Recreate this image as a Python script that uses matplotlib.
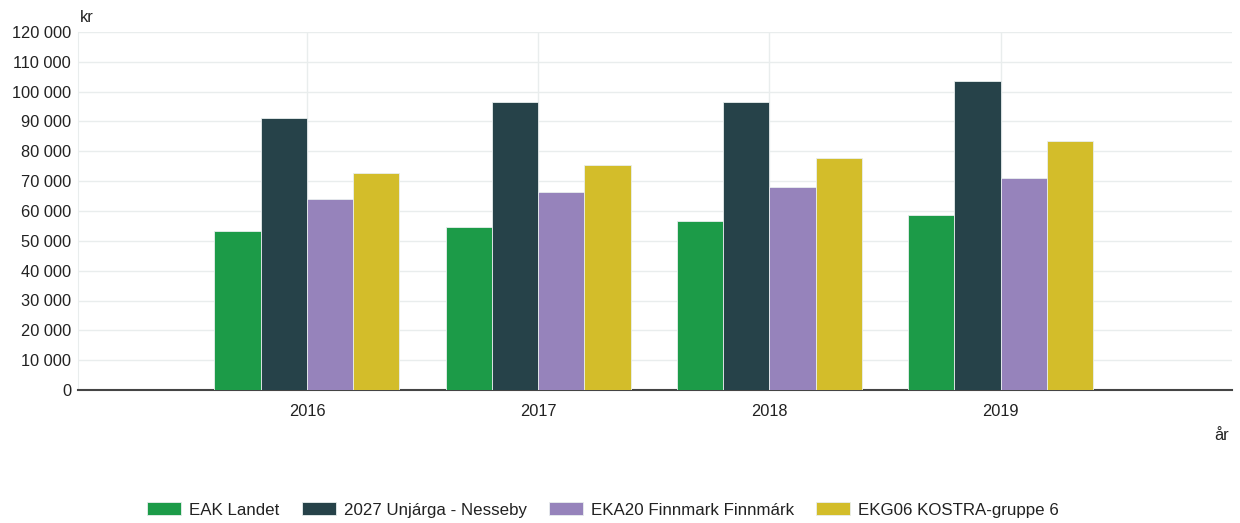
import matplotlib
matplotlib.use("Agg")
import matplotlib.pyplot as plt
from matplotlib.ticker import FuncFormatter, MultipleLocator
import numpy as np

plt.rcParams['font.family'] = ['Liberation Sans', 'DejaVu Sans']

years = ["2016", "2017", "2018", "2019"]
series_names = ["EAK Landet", "2027 Unjárga - Nesseby",
                "EKA20 Finnmark Finnmárk", "EKG06 KOSTRA-gruppe 6"]
eak_landet = [53300, 54600, 56700, 58600]
nesseby = [91200, 96500, 96600, 103500]
finnmark = [64000, 66400, 68100, 71000]
kostra6 = [72700, 75400, 77800, 83400]
colors = ["#1c9b48", "#264249", "#9683bb", "#d3bd2a"]

fig = plt.figure(figsize=(12.4, 5.23), dpi=100)
ax = fig.add_axes([78 / 1240, (523 - 390) / 523, (1232 - 78) / 1240, (390 - 32) / 523])

x = np.arange(len(years))
w = 0.2
all_series = [eak_landet, nesseby, finnmark, kostra6]
for i, (vals, name, c) in enumerate(zip(all_series, series_names, colors)):
    ax.bar(x + (i - 1.5) * w, vals, w, color=c, label=name,
           edgecolor="#e8eeee", linewidth=0.6, zorder=3)

ax.set_xlim(-0.99, 4.0)
ax.set_ylim(0, 120000)
ax.yaxis.set_major_locator(MultipleLocator(10000))
ax.yaxis.set_major_formatter(FuncFormatter(lambda v, p: f"{int(v):,}".replace(",", " ")))
ax.set_xticks(x)
ax.set_xticklabels(years)

ax.grid(True, color="#e9eded", linewidth=1, zorder=0)
ax.set_axisbelow(True)
for s in ["top", "right"]:
    ax.spines[s].set_visible(False)
ax.spines["left"].set_color("#e9eded")
ax.spines["bottom"].set_color("#444444")
ax.spines["bottom"].set_linewidth(1.5)
fs = 11.8
ax.tick_params(axis="both", length=0, labelsize=fs, colors="#222222")
ax.tick_params(axis="y", pad=5)
ax.tick_params(axis="x", pad=10)

fig.text(80 / 1240, 1 - 18 / 523, "kr", fontsize=fs, ha="left", va="center", color="#222222")
fig.text(1229 / 1240, 1 - 435 / 523, "år", fontsize=fs, ha="right", va="center", color="#222222")

leg = fig.legend(loc="center", bbox_to_anchor=(603 / 1240, 1 - 510 / 523), ncol=4,
                 frameon=False, fontsize=12.2, handlelength=2.0, handleheight=0.8,
                 columnspacing=1.3, handletextpad=0.48)
for t in leg.get_texts():
    t.set_color("#222222")

fig.savefig("out.png", dpi=100)
